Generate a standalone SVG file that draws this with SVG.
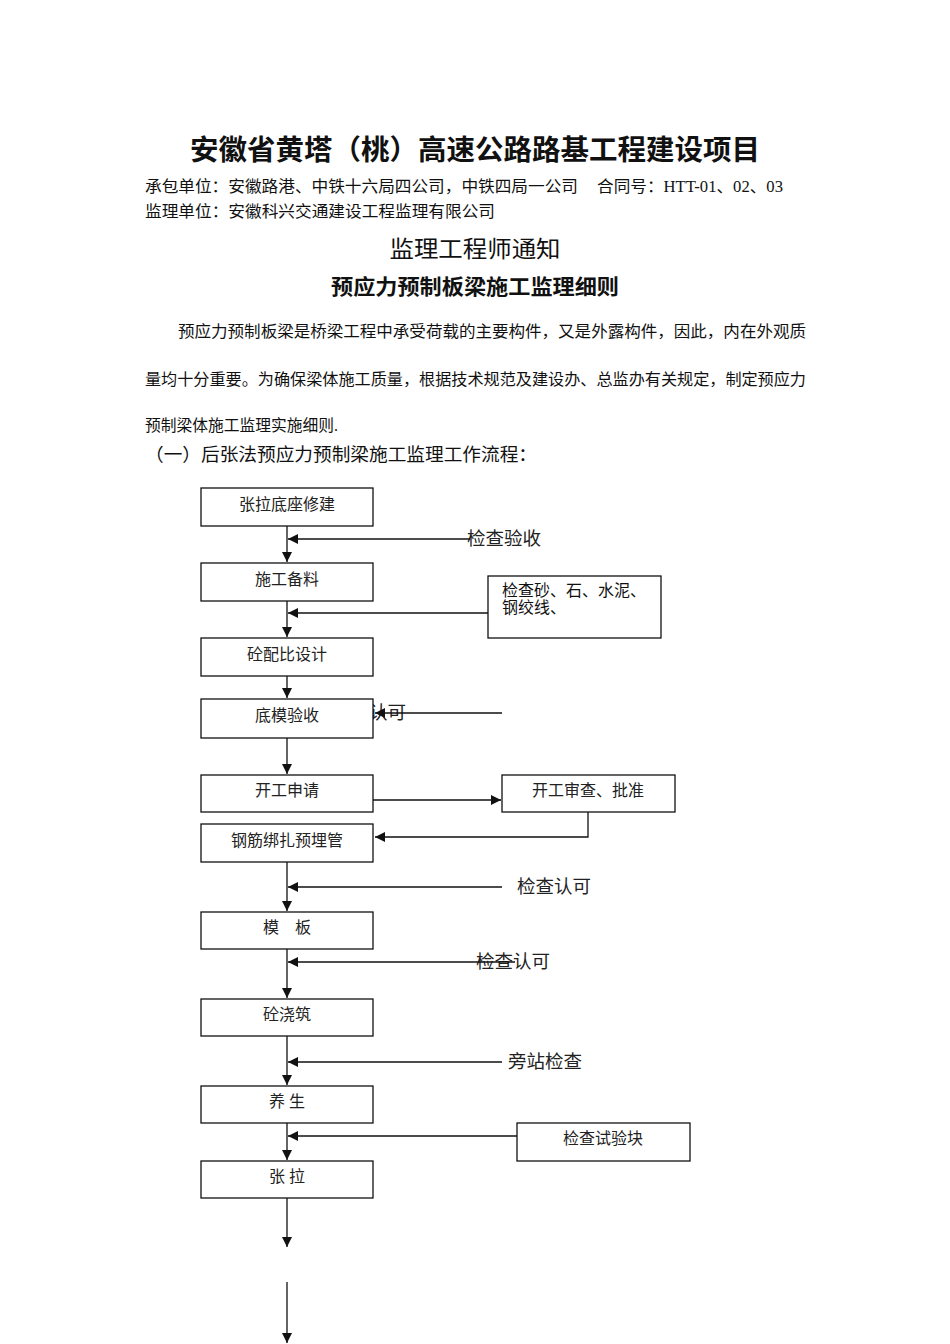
<svg xmlns="http://www.w3.org/2000/svg" width="950" height="1344" viewBox="0 0 950 1344">
<defs>
<marker id="ah" viewBox="0 0 10 10" refX="10" refY="5" markerWidth="10" markerHeight="10" markerUnits="userSpaceOnUse" orient="auto">
<path d="M0,0 L10,5 L0,10 z" fill="#111"/>
</marker>
</defs>
<style>
.t{font-family:"Liberation Serif","Noto Sans CJK SC",serif;fill:#111}
.b{fill:#fff;stroke:#111;stroke-width:1.3}
.n{font-family:"Liberation Serif","Noto Sans CJK SC",serif;font-size:16px;fill:#222;text-anchor:middle}
.l{font-family:"Liberation Serif","Noto Sans CJK SC",serif;font-size:18.5px;fill:#222}
.c{fill:none;stroke:#111;stroke-width:1.3;marker-end:url(#ah)}
</style>
<rect width="950" height="1344" fill="#fff"/>
<g id="header">
<text class="t" x="475" y="160" font-size="28" font-weight="bold" text-anchor="middle" textLength="570" lengthAdjust="spacingAndGlyphs">安徽省黄塔（桃）高速公路路基工程建设项目</text>
<text class="t" x="145" y="192" font-size="16" textLength="433" lengthAdjust="spacingAndGlyphs">承包单位：安徽路港、中铁十六局四公司，中铁四局一公司</text>
<text class="t" x="597" y="192" font-size="16" textLength="186" lengthAdjust="spacingAndGlyphs">合同号：HTT-01、02、03</text>
<text class="t" x="145" y="217" font-size="16" textLength="350" lengthAdjust="spacingAndGlyphs">监理单位：安徽科兴交通建设工程监理有限公司</text>
<text class="t" x="475" y="257" font-size="23" text-anchor="middle" textLength="171" lengthAdjust="spacingAndGlyphs">监理工程师通知</text>
<text class="t" x="475" y="294" font-size="21" font-weight="bold" text-anchor="middle" textLength="288" lengthAdjust="spacingAndGlyphs">预应力预制板梁施工监理细则</text>
<text class="t" x="178" y="337" font-size="16" textLength="628" lengthAdjust="spacingAndGlyphs">预应力预制板梁是桥梁工程中承受荷载的主要构件，又是外露构件，因此，内在外观质</text>
<text class="t" x="145" y="385" font-size="16" textLength="661" lengthAdjust="spacingAndGlyphs">量均十分重要。为确保梁体施工质量，根据技术规范及建设办、总监办有关规定，制定预应力</text>
<text class="t" x="145" y="431" font-size="16" textLength="193" lengthAdjust="spacingAndGlyphs">预制梁体施工监理实施细则.</text>
<text class="t" x="145" y="461" font-size="18" textLength="392" lengthAdjust="spacingAndGlyphs">（一）后张法预应力预制梁施工监理工作流程：</text>
</g>
<g id="labels">
<text class="l" x="467" y="545">检查验收</text>
<text class="l" x="332" y="719">检查认可</text>
<text class="l" x="517" y="893">检查认可</text>
<text class="l" x="476" y="968">检查认可</text>
<text class="l" x="508" y="1068">旁站检查</text>
</g>
<g id="connectors">
<line class="c" x1="470" y1="539" x2="288" y2="539"/>
<line class="c" x1="287" y1="526" x2="287" y2="562"/>
<line class="c" x1="287" y1="601" x2="287" y2="637"/>
<line class="c" x1="488" y1="613" x2="288" y2="613"/>
<line class="c" x1="287" y1="676" x2="287" y2="698"/>
<line class="c" x1="287" y1="738" x2="287" y2="774"/>
<line class="c" x1="373" y1="800" x2="501" y2="800"/>
<polyline class="c" points="588,812 588,837 375,837"/>
<line class="c" x1="287" y1="862" x2="287" y2="911"/>
<line class="c" x1="502" y1="887" x2="288" y2="887"/>
<line class="c" x1="287" y1="949" x2="287" y2="998"/>
<line class="c" x1="515" y1="962" x2="288" y2="962"/>
<line class="c" x1="287" y1="1036" x2="287" y2="1085"/>
<line class="c" x1="502" y1="1062" x2="288" y2="1062"/>
<line class="c" x1="287" y1="1123" x2="287" y2="1160"/>
<line class="c" x1="517" y1="1136" x2="288" y2="1136"/>
<line class="c" x1="287" y1="1198" x2="287" y2="1247"/>
<line class="c" x1="287" y1="1282" x2="287" y2="1343"/>
</g>
<g id="n1"><rect class="b" x="201" y="488" width="172" height="38"/><text class="n" x="287" y="510">张拉底座修建</text></g>
<g id="n2"><rect class="b" x="201" y="563" width="172" height="38"/><text class="n" x="287" y="585">施工备料</text></g>
<g id="n3"><rect class="b" x="201" y="638" width="172" height="38"/><text class="n" x="287" y="660">砼配比设计</text></g>
<g id="n4"><rect class="b" x="201" y="699" width="172" height="39"/><text class="n" x="287" y="721">底模验收</text></g>
<line class="c" x1="502" y1="713" x2="375" y2="713"/>
<g id="n5"><rect class="b" x="201" y="775" width="172" height="37"/><text class="n" x="287" y="796">开工申请</text></g>
<g id="n6"><rect class="b" x="201" y="824" width="172" height="38"/><text class="n" x="287" y="846">钢筋绑扎预埋管</text></g>
<g id="n7"><rect class="b" x="201" y="912" width="172" height="37"/><text class="n" x="287" y="933">模　板</text></g>
<g id="n8"><rect class="b" x="201" y="999" width="172" height="37"/><text class="n" x="287" y="1020">砼浇筑</text></g>
<g id="n9"><rect class="b" x="201" y="1086" width="172" height="37"/><text class="n" x="287" y="1107">养 生</text></g>
<g id="n10"><rect class="b" x="201" y="1161" width="172" height="37"/><text class="n" x="287" y="1182">张 拉</text></g>
<g id="r1"><rect class="b" x="488" y="576" width="173" height="62"/><text class="t" x="502" y="596" font-size="16">检查砂、石、水泥、</text><text class="t" x="502" y="613" font-size="16">钢绞线、</text></g>
<g id="r2"><rect class="b" x="502" y="775" width="173" height="37"/><text class="n" x="588" y="796">开工审查、批准</text></g>
<g id="r3"><rect class="b" x="517" y="1123" width="173" height="38"/><text class="n" x="603" y="1144">检查试验块</text></g>
</svg>
